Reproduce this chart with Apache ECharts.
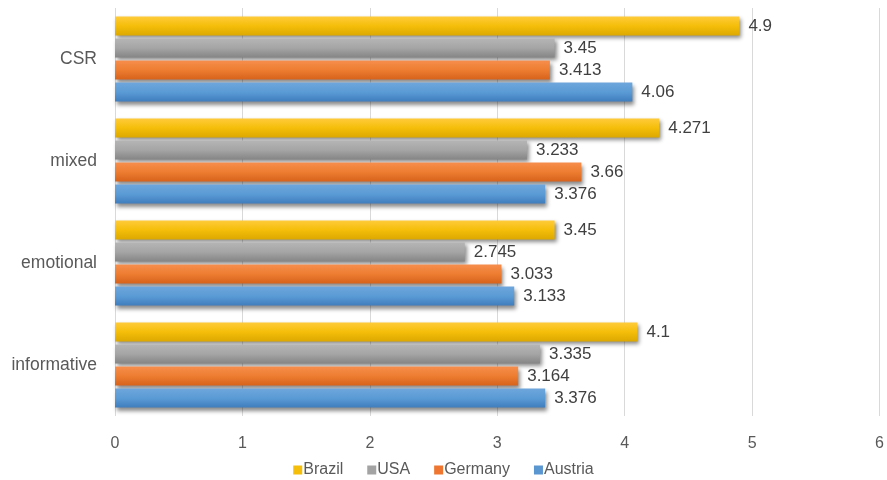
<!DOCTYPE html>
<html><head><meta charset="utf-8">
<script src="https://cdn.jsdelivr.net/npm/echarts@6/dist/echarts.min.js"></script>
<style>html,body{margin:0;padding:0;background:#fff}#c{width:887px;height:480px}</style>
</head><body><div id="c"></div>
<script>
const categories = ['informative', 'emotional', 'mixed', 'CSR'];
const austria = [3.376, 3.133, 3.376, 4.06];
const germany = [3.164, 3.033, 3.66, 3.413];
const usa = [3.335, 2.745, 3.233, 3.45];
const brazil = [4.1, 3.45, 4.271, 4.9];
const xTicks = [0, 1, 2, 3, 4, 5, 6];

const FONT = 'Liberation Sans';
function grad(top, mid, bottom) {
  return new echarts.graphic.LinearGradient(0, 0, 0, 1, [
    {offset: 0, color: top}, {offset: 0.5, color: mid}, {offset: 1, color: bottom}
  ]);
}
function mk(name, data, g) {
  return {
    name, type: 'bar', data, barWidth: 19, barGap: '16%',
    itemStyle: {color: g, shadowColor: 'rgba(0,0,0,0.45)', shadowBlur: 4, shadowOffsetX: 2, shadowOffsetY: 3},
    label: {show: true, position: 'right', distance: 9, color: '#404040', fontFamily: FONT, fontSize: 17,
      formatter: p => String(p.value)},
    emphasis: {disabled: true}
  };
}
const chart = echarts.init(document.getElementById('c'));
chart.setOption({
  animation: false,
  grid: {left: 115, right: 7, top: 8, bottom: 64},
  legend: {
    data: [
      {name: 'Brazil', itemStyle: {color: '#F5BE0A'}},
      {name: 'USA', itemStyle: {color: '#A3A3A3'}},
      {name: 'Germany', itemStyle: {color: '#EE7630'}},
      {name: 'Austria', itemStyle: {color: '#5A96D0'}}
    ],
    top: 457, left: 'center', itemWidth: 9, itemHeight: 9, itemGap: 24,
    icon: 'rect',
    textStyle: {color: '#595959', fontFamily: FONT, fontSize: 16, padding: [0, 0, 0, -4]}
  },
  xAxis: {
    type: 'value', min: 0, max: 6, interval: 1,
    axisLine: {show: false}, axisTick: {show: false},
    splitLine: {lineStyle: {color: '#D9D9D9', width: 1}},
    axisLabel: {color: '#595959', fontFamily: FONT, fontSize: 16, margin: 20,
      formatter: v => xTicks.includes(v) ? String(v) : ''}
  },
  yAxis: {
    type: 'category', data: categories,
    axisLine: {show: false}, axisTick: {show: false},
    axisLabel: {color: '#595959', fontFamily: FONT, fontSize: 17.5, margin: 18}
  },
  series: [
    mk('Brazil', brazil, grad('#FFCB3A', '#F5BE0A', '#DDA800')),
    mk('USA', usa, grad('#B5B5B5', '#A5A5A5', '#858585')),
    mk('Germany', germany, grad('#F68E4C', '#ED7D31', '#D7621B')),
    mk('Austria', austria, grad('#6EA6DC', '#5B9BD5', '#3F7DBE'))
  ]
});
</script></body></html>
